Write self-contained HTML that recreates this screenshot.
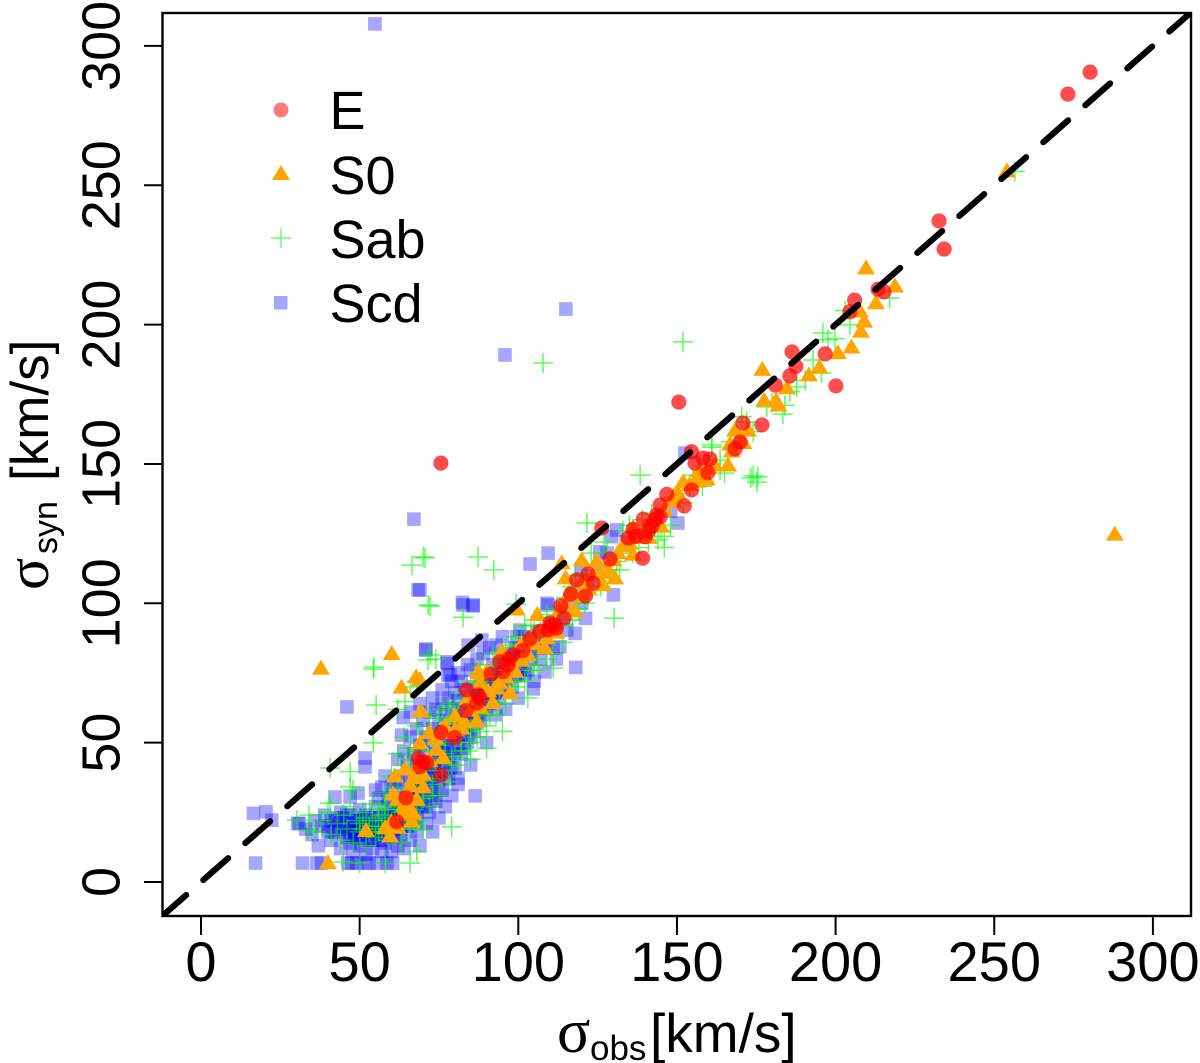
<!DOCTYPE html>
<html lang="en">
<head>
<meta charset="utf-8">
<title>Observed vs synthetic velocity dispersion</title>
<style>
html,body{margin:0;padding:0;background:#fff;width:1200px;height:1063px;overflow:hidden}
svg{display:block}
text{font-family:"Liberation Sans",sans-serif;fill:#000}
.greek{font-family:"Liberation Serif",serif}
</style>
</head>
<body>
<svg id="chart" xmlns="http://www.w3.org/2000/svg" width="1200" height="1063" viewBox="0 0 1200 1063">
  <defs><clipPath id="plot-clip"><rect x="162.5" y="13" width="1028.5" height="903"/></clipPath></defs>
  <rect x="0" y="0" width="1200" height="1063" fill="#fff"/>
  <g id="points" clip-path="url(#plot-clip)"></g>
  <g id="axes"></g>
  <rect x="162.5" y="13" width="1028.5" height="903" fill="none" stroke="#000" stroke-width="2.4"/>

  <g>
    <circle cx="281" cy="110" r="7.5" fill="#ff7a7a"/>
    <text x="329.5" y="129" font-size="54">E</text>
    <polygon points="272,180 290,180 281,165" fill="#ffa500"/>
    <text x="329.5" y="194" font-size="54">S0</text>
    <path d="M271 238H291M281 228V248" stroke="#66ff66" stroke-width="1.4" fill="none"/>
    <text x="329.5" y="258" font-size="54">Sab</text>
    <rect x="274" y="296" width="13.5" height="13.5" fill="#a6a6ff"/>
    <text x="329.5" y="322" font-size="54">Scd</text>
  </g>

  <g>
    <text class="greek" x="557" y="1052" font-size="62">σ</text>
    <text x="590" y="1060" font-size="35">obs</text>
    <text x="650" y="1052" font-size="55">[km/s]</text>
  </g>
  <g>
    <text class="greek" transform="translate(48,590) rotate(-90)" font-size="60">σ</text>
    <text transform="translate(57,554) rotate(-90)" font-size="34">syn</text>
    <text transform="translate(48,481) rotate(-90)" font-size="53">[km/s]</text>
  </g>
</svg>
<script>
// Axis tick values
var xTicks = [0, 50, 100, 150, 200, 250, 300];
var yTicks = [0, 50, 100, 150, 200, 250, 300];

// Reference line endpoints (sigma_syn = sigma_obs)
var refLine = [-12.5, 320];

// Scd galaxies: [sigma_obs, sigma_syn]
var scdPoints = [
[54.8,307.9],[115,205.6],[95.8,189.1],[67.1,130.2],[68.4,104.8],[82.6,99.4],[85.7,99],[109.4,118],[103.7,114.1],[150.3,128.8],[152.5,153.9],[46,62.8],[86.4,30.9],
[16.5,24.6],[20.5,25.2],[22.3,22.2],[17.2,6.8],[32,6.8],[36.5,6.8],[46.3,6.8],[49.1,6.8],[51.7,6.8],[55.8,6.8],[58.6,6.8],[60.4,6.8],[38,6.8],[47.5,6.8],[53,6.8],
[131,126.3],[129.4,123.9],[125.7,118.5],[119.8,112],[130,103],[121.2,94.6],[82.4,100.3],[85.8,99.4],[109.4,99.4],[84.2,85],[88.5,86.8],[70.8,83.2],[77.7,78.4],[118.1,77],[104.7,69.3],[78.5,74.3],[100.5,90.4],[113.1,84.4],[117.9,89.2],[115.3,90.4],[109,100],[108.4,75.4],[102.1,74.8],[99.5,88],[69,104.8],
[63.7,59],[51.7,44.5],[51.7,41.3],[63.2,52.7],[42.2,30.5],[47,30.5],[49.5,31.9],[81,37.3],[74.7,31.2],[70.9,83.6],[77.5,79],[77.8,74.3],[30.5,21],
[31,21],[33,19],[35,17],[36,22],[37,13],[38,20],[39,24],[40,18],[41,15],[42,22],[43,19],[44,12],[44,25],[45,17],[46,21],[47,14],[47,24],[48,19],[48,11],[49,16],[49,22],[50,26],[50,13],[51,20],[51,17],[52,24],[52,10],[53,15],[53,21],[54,18],[54,12],[55,23],[55,27],[56,15],[56,20],[57,11],[57,18],[58,24],[58,14],[59,21],[59,27],[60,16],[60,11],[61,19],[61,24],[62,13],[62,29],[63,22],[63,17],[64,26],[64,12],[65,20],[65,31],[66,15],[66,24],[67,28],[67,35],[68,18],[68,23],[69,33],[69,13],[70,27],[70,38],[71,21],[71,31],[72,42],[72,25],[73,35],[73,18],[74,29],[74,46],[75,40],[75,23],[76,33],[76,50],[77,27],[77,44],[78,37],[78,54],[79,48],[79,31],[80,41],[80,58],[81,52],[81,35],[82,46],[82,62],[83,56],[84,50],[84,66],[85,60],[85,42],[86,54],[86,70],[87,64],[88,58],[88,74],[89,68],[90,62],[90,50],[91,72],[92,66],[92,78],[93,60],[94,74],[94,70],[95,68],[96,80],[96,62],[97,76],[98,70],[99,84],[100,74],[100,66],[101,80],[102,88],[103,76],[104,84],[105,72],[106,90],[107,80],[108,86],[110,92],[111,84],[112,80],[114,95],[116,100],[118,104],[120,100],[122,108],
[58,38],[60,34],[62,44],[63,38],[64,47],[65,42],[66,52],[67,46],[68,55],[69,49],[70,58],[71,52],[72,61],[73,55],[74,62],[75,58],[76,64],[77,60],[78,66],[79,62],[80,68],[81,65],[82,72],[83,69],[85,76],[87,80],[89,82],[91,84],[93,85],[95,88],[56,30],[57,34],[59,30],[60,26],[61,36],[55,33],
[66,38],[68,42],[70,47],[72,50],[74,53],[64,33],[62,36],[66,61],[69,64],[73,66],[76,69],[79,72],[81,75],[84,78],[126,112],[128,118],[134,122],[142,128],[148,133]
];

// Scd galaxies in the dense core: [sigma_obs, sigma_syn]
var scdCore = [
[40,20],[41,22],[42,18],[43,23],[44,20],[45,19],[45,23],[46,16],[46,24],[47,20],[47,18],[48,22],[48,16],[49,20],[49,18],[50,22],[50,17],[50,20],[51,15],[51,23],[52,18],[52,21],[53,17],[53,23],[54,20],[54,15],[55,19],[55,17],[56,23],[56,18],[57,21],[57,15],[58,19],[58,17],[59,23],[59,18],[60,20],[60,24],[61,16],[61,22],[62,18],[62,25],[63,20],[63,27],[64,22],[64,30],[65,24],[65,27],[66,30],[66,20],[67,32],[67,23],[68,26],[68,34],[69,37],[69,28],[70,31],[70,35],[71,40],[71,27],[72,34],[72,37],[73,41],[73,30],[74,38],[74,43],[75,36],[75,45],[76,42],[76,47],[77,39],[77,50],[78,44],[78,48],[79,52],[79,41],[80,46],[80,54],[81,49],[81,57],[82,53],[83,48],[83,60],[84,55],[84,58],[85,64],[85,52],[86,60],[86,66],[87,57],[87,69],[88,62],[88,68],[89,72],[89,60],[90,66],[90,70],[91,64],[92,74],[93,68],[93,72],[94,66],[95,74],[95,78],[96,72],[97,80],[98,76],[98,82],[99,74],[100,80],[100,84],[101,76],[102,82],[103,86],[104,80],[105,88],[106,84],[108,90],[109,84]
];

// Sab galaxies: [sigma_obs, sigma_syn]
var sabPoints = [
[151.9,193.8],[107.8,186.2],[256.5,255],[66.5,113.7],[70,116.6],[87.3,116.6],[92.3,112],[72.2,99],[54.5,77.1],[55.2,63.5],[72.2,81.5],[74,80],[175.2,143.5],[173.3,145],[138.4,146],[130.2,94.7],[99.3,99.7],[121.6,128.8],[70.6,116.3],[71.6,99.4],[82.6,95],[144,122.7],[146,124],[111,76.8],[161,156],
[183.4,167.9],[174,145.8],[175.5,145.3],[196,197],[197.6,194.5],[199.8,195],[204.5,199.9],[203,205],[161,156.8],[170.4,167],[174,161.6],[178.3,170.5],[187.7,177.7],[185.6,175.9],[190.4,180],[192.9,187.3],[195.6,182.6],[217,209.5],[163.6,151.4],[163.6,147.8],[165,146.7],
[54.3,76.4],[54.3,49.9],[47,39.6],[47.9,33],[71.5,79.7],[64.3,64.7],[40.7,40.9],[47,34.1],[40.7,28.3],[30.2,22.2],[33.7,18.7],[68,10.9],[65.9,6.8],[58,6.8],[50,6.8],[44.8,7.2],[79,19.8],[70,18.7],
[34,24],[36,18],[38,22],[40,25],[41,17],[43,21],[44,15],[45,24],[46,19],[47,27],[48,14],[49,22],[50,18],[51,25],[52,13],[53,20],[54,28],[55,16],[56,22],[57,19],[58,26],[59,15],[60,21],[61,18],[62,27],[63,14],[64,23],[65,31],[66,19],[67,26],[68,36],[69,22],[70,30],[71,41],[72,27],[73,35],[74,47],[75,31],[76,40],[77,52],[78,36],[79,45],[80,57],[81,42],[82,50],[83,62],[84,47],[85,55],[86,68],[87,52],[88,60],[89,72],[90,56],[91,65],[92,76],[93,60],[94,70],[95,80],[96,64],[97,74],[98,85],[99,70],[100,78],[101,88],[102,72],[103,82],[104,92],[105,76],[106,86],[107,95],[109,80],[110,90],[112,98],[114,86],[116,94],[117,106],[119,98],[120,110],[122,103],[123,118],[125,108],[127,122],[129,112],[131,115],[133,126],[136,118],[139,130],[141,122],[143,127],[146,120],[149,138],[152,136],[155,146],[158,142],[160,150],[167,158],[172,165],[180,172],[184,171],
[60,38],[62,46],[64,52],[66,44],[68,56],[70,50],[72,60],[74,54],[76,62],[78,58],[80,64],[58,32],[66,70],[68,72],[85,44],[90,48],[95,54],[103,66],[62,62]
];

// Sab galaxies in the dense core: [sigma_obs, sigma_syn]
var sabCore = [
[50,21],[51,19],[52,23],[53,18],[54,22],[55,20],[56,18],[57,24],[58,20],[59,23],[60,18],[61,26],[62,22],[63,25],[64,19],[65,28],[66,33],[67,22],[68,29],[69,38],[70,33],[71,36],[72,44],[73,31],[74,40],[75,49],[76,37],[77,46],[78,55],[79,42],[80,50],[81,60],[82,47],[83,55],[84,64],[85,50],[86,58],[87,70],[88,54],[89,64],[90,74],[91,60],[92,70],[93,78],[94,64],[95,72],[96,84],[97,70],[98,78],[99,88],[100,72],[101,82],[102,92],[103,76],[104,86],[105,94],[106,78],[108,88],[109,96],[111,82],[113,92],[115,102],[117,94],[118,110],[121,100],[124,112],[126,106],[128,118],[132,112],[135,128],[138,120],[142,132],[145,126],[148,128],[154,142],[157,146],[64,42],[66,48],[68,47],[72,54],[75,59],[78,63],[82,68],[85,72],[88,78],[92,82],[96,76],[60,30],[62,34],[58,28],[56,26]
];

// S0 galaxies: [sigma_obs, sigma_syn]
var s0Points = [
[288,125.2],[254,255.5],[209.6,220.7],[218.7,214.2],[212.7,208.2],[209,201.6],[207.7,205.2],[208,198],[205,192.3],[200.7,190.3],[194.9,185.1],[191.6,182.3],[184.6,177.7],[176.9,184.3],[177.5,173.2],[181.2,173.2],[182,171.5],[168.3,162.5],[172.4,162.5],[166.7,157.5],[167.3,155],[166.1,150],[156.6,146],[156.6,144.2],[159.4,145],[150.3,140],[148.8,137],[136.2,127.5],[131.4,118.5],[136.2,118],[124.7,115.5],[120,116],[126.7,111.3],[130.5,109.5],[113.7,114.9],[114.9,109.5],[117.9,97.6],[106,96.4],[99.5,98.3],[108.4,84.4],[94.8,83.2],[87.4,76],[92.7,70],[97.4,68.3],[90.5,68.9],[126.7,107],[69,73],
[60.1,82.3],[67.8,74],[63.2,70.3],[69.3,61.7],[87.6,75.4],[93.2,70],[76.9,56.3],[82.2,55.6],[86.9,58.1],[92,64.7],[69,50.3],[74.3,48],[76.3,45],[61.1,38.4],[64.3,40.9],[66.9,37.8],[70,34.5],[60.5,32],[64.9,32.4],[65.6,27.6],[52,18.9],[58,19.8],[59.6,16.9],[66.4,22.2],[63.7,25.2],[40,7.3],[37.8,77.1],
[141,124],[145,128],[120,104],[112,90],[104,88],[101,86],[98,78],[84,66],[80,60],[72,44],[152,144],[162,150],
[88,72],[90,76],[94,72],[96,74],[99,76],[101,80],[103,82],[105,86],[107,90],[109,88],[111,93],[113,98],[115,100],[116,104],[118,103],[120,108],[122,106],[124,111],[128,113],[130,116],[133,121],[135,122],[138,124],[140,128],[143,131],[146,134],[149,139],[154,143],[157,148],[160,149],[170,160],[171,158],[72,54],[74,52],[78,54],[80,55],[83,58],[85,62],[88,63],[68,42],[66,35],[62,30],[68,30],[70,39],[64,28],[67,25],[60,22],[62,20]
];

// E galaxies: [sigma_obs, sigma_syn]
var ePoints = [
[280.2,290.6],[273.2,282.7],[232.6,237.2],[234.2,227.1],[75.6,150.3],[150.6,172.2],[200.1,178],[196.7,189.5],[186.3,190.2],[213.4,212.7],[215.2,211.8],[206,208.8],[204.5,204.6],[181,178.3],[187.5,185],[185.6,181.6],[170.8,164.7],[176.8,164],[169.9,157.9],[168.3,155.4],
[154.6,154.4],[155.7,150.3],[158.2,152.1],[160.4,151.8],[159.7,146.9],[146.8,139.1],[154.6,140.7],[152.3,134.9],[144.7,135.3],[143.6,131.7],[139.4,130.2],[142,127.5],[144.7,131],[136.2,126.6],[134.7,123.4],[140,123.9],[139.2,116.2],[126.3,127],[128.9,115.9],[122,110.5],[118.4,108.4],[123.6,107.2],[116.5,103.3],[121.2,102.6],[113.4,99.1],[114.4,94.7],[110.5,92.2],[111.6,92.2],[109.4,90.4],[106.8,90],[103.7,87.2],[101.4,83],[98.3,81.5],[94.2,79],[96.8,77.9],[95.2,75.5],[91.4,74.6],[83.7,68.9],[87.3,67.1],[86.9,64.2],[83.5,61.5],[75.6,53.7],[80,51.8],[68.5,44.5],[71.1,42.8],[69,41.4],[75.6,38.4],[64.6,30.2],[61.7,21.6],
[110,93],[112,91],[97,80],[88,66],[70,43],[143,130],[137,124],[141,126]
];

function xScale(v) { return 201 + v * 3.173; }
function yScale(v) { return 882 - v * 2.787; }

var NS = 'http://www.w3.org/2000/svg';
var pts = document.getElementById('points');
var axes = document.getElementById('axes');

scdPoints.concat(scdCore).forEach(function (p) {
  var el = document.createElementNS(NS, 'rect');
  
  
  el.setAttribute('x', xScale(p[0]) - 6.8);
  el.setAttribute('y', yScale(p[1]) - 6.8);
  el.setAttribute('width', 13.6);
  el.setAttribute('height', 13.6);
  el.setAttribute('fill', 'rgba(0,0,255,0.35)');
  pts.appendChild(el);
});

sabPoints.concat(sabCore).forEach(function (p) {
  var cx = xScale(p[0]), cy = yScale(p[1]);
  var el = document.createElementNS(NS, 'path');
  
  
  el.setAttribute('d', 'M' + (cx - 10) + ' ' + cy + 'H' + (cx + 10) + 'M' + cx + ' ' + (cy - 10) + 'V' + (cy + 10));
  el.setAttribute('stroke', 'rgba(0,255,0,0.65)');
  el.setAttribute('stroke-width', 1.5);
  el.setAttribute('fill', 'none');
  pts.appendChild(el);
});

s0Points.forEach(function (p) {
  var cx = xScale(p[0]), cy = yScale(p[1]);
  var el = document.createElementNS(NS, 'polygon');
  
  
  el.setAttribute('points', (cx - 9) + ',' + (cy + 7.5) + ' ' + (cx + 9) + ',' + (cy + 7.5) + ' ' + cx + ',' + (cy - 7.5));
  el.setAttribute('fill', '#ffa500');
  pts.appendChild(el);
});

ePoints.forEach(function (p) {
  var el = document.createElementNS(NS, 'circle');
  
  
  el.setAttribute('cx', xScale(p[0]));
  el.setAttribute('cy', yScale(p[1]));
  el.setAttribute('r', 7.6);
  el.setAttribute('fill', 'rgba(255,0,0,0.7)');
  pts.appendChild(el);
});

var line = document.createElementNS(NS, 'line');


line.setAttribute('x1', xScale(refLine[0]));
line.setAttribute('y1', yScale(refLine[0]));
line.setAttribute('x2', xScale(refLine[1]));
line.setAttribute('y2', yScale(refLine[1]));
line.setAttribute('stroke', '#000');
line.setAttribute('stroke-width', 6.2);
line.setAttribute('stroke-linecap', 'round');
line.setAttribute('stroke-dasharray', '33 22.9');
pts.appendChild(line);

xTicks.forEach(function (t) {
  var tick = document.createElementNS(NS, 'line');
  
  
  tick.setAttribute('x1', xScale(t));
  tick.setAttribute('x2', xScale(t));
  tick.setAttribute('y1', 916);
  tick.setAttribute('y2', 935);
  tick.setAttribute('stroke', '#000');
  tick.setAttribute('stroke-width', 2);
  axes.appendChild(tick);
  var label = document.createElementNS(NS, 'text');
  
  
  label.setAttribute('x', xScale(t));
  label.setAttribute('y', 981);
  label.setAttribute('font-size', 56);
  label.setAttribute('text-anchor', 'middle');
  label.textContent = String(t);
  axes.appendChild(label);
});

yTicks.forEach(function (t) {
  var tick = document.createElementNS(NS, 'line');
  
  
  tick.setAttribute('x1', 144);
  tick.setAttribute('x2', 162.5);
  tick.setAttribute('y1', yScale(t));
  tick.setAttribute('y2', yScale(t));
  tick.setAttribute('stroke', '#000');
  tick.setAttribute('stroke-width', 2);
  axes.appendChild(tick);
  var label = document.createElementNS(NS, 'text');
  
  
  label.setAttribute('transform', 'translate(119.5,' + yScale(t) + ') rotate(-90)');
  label.setAttribute('font-size', 54);
  label.setAttribute('text-anchor', 'middle');
  label.textContent = String(t);
  axes.appendChild(label);
});
</script>
</body>
</html>
